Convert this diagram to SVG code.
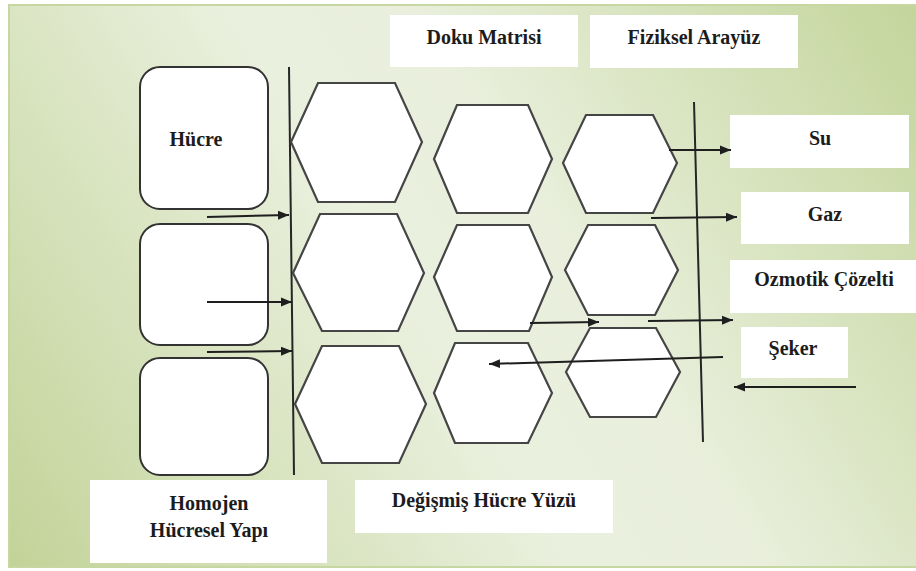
<svg xmlns="http://www.w3.org/2000/svg" width="916" height="571" viewBox="0 0 916 571">
<defs>
<linearGradient id="bg" gradientUnits="userSpaceOnUse" x1="9" y1="567" x2="916" y2="5">
<stop offset="0" stop-color="#c2d398"/>
<stop offset="0.45" stop-color="#eaf0de"/>
<stop offset="0.6" stop-color="#e9efdc"/>
<stop offset="1" stop-color="#c3d59b"/>
</linearGradient>
<marker id="ah" markerWidth="12" markerHeight="10" refX="11" refY="5" orient="auto" markerUnits="userSpaceOnUse">
<path d="M0,0.5 L11,5 L0,9.5 z" fill="#1e1e1e"/>
</marker>
<style>
.box{fill:#ffffff;stroke:none}
.cell{fill:#ffffff;stroke:#333333;stroke-width:2}
.hex{fill:#ffffff;stroke:#454545;stroke-width:2.2;stroke-linejoin:miter}
.wall{stroke:#262626;stroke-width:2;fill:none}
.arr{stroke:#1e1e1e;stroke-width:2;fill:none;marker-end:url(#ah)}
.t{font-weight:bold;font-size:20px;fill:#1c1c1c;text-anchor:middle}
</style>
</defs>
<rect x="0" y="0" width="916" height="571" fill="#ffffff"/>
<rect x="9" y="5" width="908" height="562" fill="url(#bg)" stroke="#c6d7a2" stroke-width="2"/>

<g font-family="'Liberation Serif', 'DejaVu Serif', serif">
<g id="doku-matrisi"><rect class="box" x="390" y="15" width="188" height="52"/><text class="t" x="484" y="44">Doku Matrisi</text></g>
<g id="fiziksel-arayuz"><rect class="box" x="590" y="15" width="208" height="53"/><text class="t" x="694" y="44">Fiziksel Arayüz</text></g>

<g id="hucre1"><rect class="cell" x="140" y="67" width="128" height="142" rx="20"/><text class="t" x="196" y="146">Hücre</text></g>
<g id="hucre2"><rect class="cell" x="140" y="224" width="128" height="121" rx="20"/></g>
<g id="hucre3"><rect class="cell" x="140" y="358" width="128" height="117" rx="20"/></g>

<g id="walls">
<line class="wall" x1="289" y1="67" x2="294" y2="475"/>
<line class="wall" x1="694" y1="102" x2="703" y2="442"/>
</g>

<g id="hex-1-1"><polygon class="hex" points="291,142 318,83 395,83 422,142 395,202 318,202"/></g>
<g id="hex-1-2"><polygon class="hex" points="293,273 320,214 397,214 424,273 398,331 322,331"/></g>
<g id="hex-1-3"><polygon class="hex" points="295,404 322,346 399,346 426,404 399,463 322,463"/></g>
<g id="hex-2-1"><polygon class="hex" points="434,159 457,105 528,105 552,159 528,213 457,213"/></g>
<g id="hex-2-2"><polygon class="hex" points="434,277 457,225 529,225 552,277 529,331 457,331"/></g>
<g id="hex-2-3"><polygon class="hex" points="434,393 455,343 528,343 552,393 528,443 455,443"/></g>
<g id="hex-3-1"><polygon class="hex" points="563,163 586,115 653,115 677,163 653,213 586,213"/></g>
<g id="hex-3-2"><polygon class="hex" points="565,270 588,225 655,225 678,270 655,315 588,315"/></g>
<g id="hex-3-3"><polygon class="hex" points="566,372 590,328 656,328 680,372 656,417 590,417"/></g>

<g id="su"><rect class="box" x="730" y="115" width="179" height="53"/><text class="t" x="820" y="145">Su</text></g>
<g id="gaz"><rect class="box" x="741" y="192" width="168" height="52"/><text class="t" x="825" y="221">Gaz</text></g>
<g id="ozmotik"><rect class="box" x="730" y="260" width="186" height="53"/><text class="t" x="824" y="286">Ozmotik Çözelti</text></g>
<g id="seker"><rect class="box" x="741" y="327" width="107" height="51"/><text class="t" x="793" y="355">Şeker</text></g>

<g id="homojen"><rect class="box" x="90" y="480" width="237" height="83"/><text class="t" x="209" y="510">Homojen</text><text class="t" x="209" y="537">Hücresel Yapı</text></g>
<g id="degismis"><rect class="box" x="355" y="480" width="258" height="53"/><text class="t" x="484" y="507">Değişmiş Hücre Yüzü</text></g>
</g>

<g id="connectors">
<line class="arr" x1="207" y1="217" x2="289" y2="215"/>
<line class="arr" x1="207" y1="302" x2="292" y2="302"/>
<line class="arr" x1="207" y1="352" x2="292" y2="351"/>
<line class="arr" x1="669" y1="150" x2="731" y2="150"/>
<line class="arr" x1="651" y1="218" x2="737" y2="217"/>
<line class="arr" x1="530" y1="323" x2="599" y2="322"/>
<line class="arr" x1="648" y1="321" x2="733" y2="320"/>
<line class="arr" x1="723" y1="357" x2="489" y2="364"/>
<line class="arr" x1="856" y1="387" x2="734" y2="387"/>
</g>
</svg>
